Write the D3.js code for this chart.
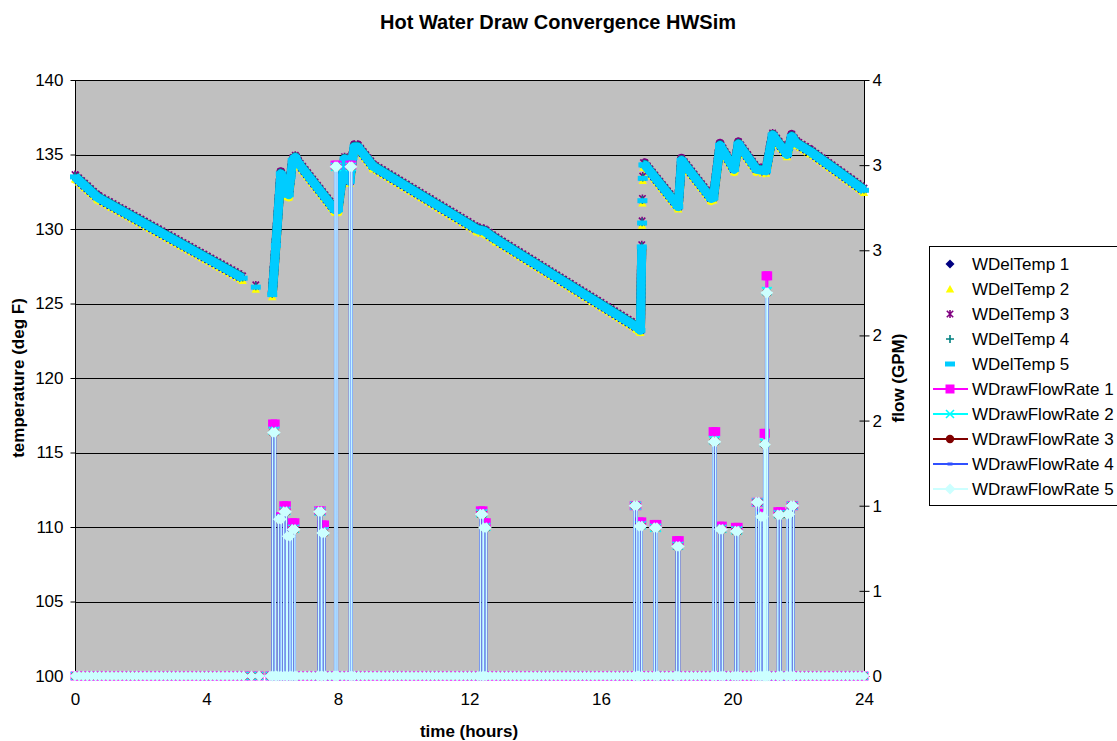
<!DOCTYPE html>
<html>
<head>
<meta charset="utf-8">
<script src="https://cdn.jsdelivr.net/npm/d3@7"></script>
<style>
body { margin: 0; background: #fff; }
text { font-family: "Liberation Sans", Arial, sans-serif; fill: #000; }
</style>
</head>
<body>
<svg width="1117" height="741"></svg>
<script>
// ---- data ----
const timeTicks = [0, 4, 8, 12, 16, 20, 24];
const tempTicks = [100, 105, 110, 115, 120, 125, 130, 135, 140];
const flowTicks = [0, 0.5, 1, 1.5, 2, 2.5, 3, 3.5];
const flowTickLabels = ["0", "1", "1", "2", "2", "3", "3", "4"];

// WDelTemp series (hours, deg F); null = no value
const delTime = [0, 0.7, 5.1, 5.3, 5.5, 5.75, 6.0, 6.11, 6.26, 6.32, 6.38, 6.44, 6.5, 6.56, 6.62, 6.7, 6.8, 7.9, 8.0, 8.2,
  8.28, 8.36, 8.44, 8.5, 8.6, 9.07, 12.25, 12.45, 12.8, 17.1, 17.2, 17.24, 17.245, 17.25, 17.255, 17.26, 17.265, 17.27, 17.275, 17.29,
  17.33, 18.35, 18.45, 19.35, 19.42, 19.62, 20.05, 20.18, 20.73, 21.02, 21.22, 21.66, 21.8, 21.95, 22.36, 24];
const delTemp1 = [133.45,132.05,126.65,null,126.05,null,125.55,128.85,133.65,133.35,132.35,133.25,132.25,133.45,134.55,134.75,134.35,131.25,131.25,134.65,
  133.75,133.15,134.75,135.45,135.45,134.15,129.9,129.8,129.25,123.35,123.15,128.75,null,130.35,null,131.85,null,133.35,null,134.25,
  134.25,131.45,134.55,132.0,132.05,135.55,133.95,135.65,133.95,133.85,136.25,134.95,136.15,135.7,135.15,132.55];
const delTemp2 = [133.35,131.95,126.55,null,125.95,null,125.45,128.75,133.55,133.25,132.25,133.15,132.15,133.35,134.45,134.65,134.25,131.15,131.15,134.55,
  133.65,133.05,134.65,135.35,135.35,134.05,129.8,129.7,129.15,123.25,123.05,128.65,null,130.25,null,131.75,null,133.25,null,134.15,
  134.15,131.35,134.45,131.9,131.95,135.45,133.85,135.55,133.85,133.75,136.15,134.85,136.05,135.6,135.05,132.45];
const delTemp3 = [133.65,132.25,126.85,null,126.25,null,125.75,129.05,133.85,133.55,132.55,133.45,132.45,133.65,134.75,134.95,134.55,131.45,131.45,134.85,
  133.95,133.35,134.95,135.65,135.65,134.35,130.1,130.0,129.45,123.55,123.35,128.95,null,130.55,null,132.05,null,133.55,null,134.45,
  134.45,131.65,134.75,132.2,132.25,135.75,134.15,135.85,134.15,134.05,136.45,135.15,136.35,135.9,135.35,132.75];
const delTemp4 = [133.55,132.15,126.75,null,126.15,null,125.65,128.95,133.75,133.45,132.45,133.35,132.35,133.55,134.65,134.85,134.45,131.35,131.35,134.75,
  133.85,133.25,134.85,135.55,135.55,134.25,130.0,129.9,129.35,123.45,123.25,128.85,null,130.45,null,131.95,null,133.45,null,134.35,
  134.35,131.55,134.65,132.1,132.15,135.65,134.05,135.75,134.05,133.95,136.35,135.05,136.25,135.8,135.25,132.65];
const delTemp5 = [133.5,132.1,126.7,null,126.1,null,125.6,128.9,133.7,133.4,132.4,133.3,132.3,133.5,134.6,134.8,134.4,131.3,131.3,134.7,
  133.8,133.2,134.8,135.5,135.5,134.2,129.95,129.85,129.3,123.4,123.2,128.8,null,130.4,null,131.9,null,133.4,null,134.3,
  134.3,131.5,134.6,132.05,132.1,135.6,134.0,135.7,134.0,133.9,136.3,135.0,136.2,135.75,135.2,132.6];

// WDrawFlowRate: sample times with zero flow, then the draws (start, end, GPM per run)
const zeroTimes = [0,.125,.25,.375,.5,.625,.75,.875,1,1.125,1.25,1.375,1.5,1.625,1.75,1.875,2,2.125,2.25,2.375,2.5,2.625,2.75,2.875,
  3,3.125,3.25,3.375,3.5,3.625,3.75,3.875,4,4.125,4.25,4.375,4.5,4.625,4.75,4.875,5,5.125,5.37,5.6,5.93,
  6,6.125,6.25,6.375,6.5,6.625,6.75,6.875,7,7.125,7.25,7.375,7.5,7.625,7.75,7.875,8,8.125,8.25,8.375,8.5,8.625,8.75,8.875,
  9,9.125,9.25,9.375,9.5,9.625,9.75,9.875,10,10.125,10.25,10.375,10.5,10.625,10.75,10.875,11,11.125,11.25,11.375,11.5,11.625,11.75,11.875,
  12,12.125,12.25,12.375,12.5,12.625,12.75,12.875,13,13.125,13.25,13.375,13.5,13.625,13.75,13.875,14,14.125,14.25,14.375,14.5,14.625,14.75,14.875,
  15,15.125,15.25,15.375,15.5,15.625,15.75,15.875,16,16.125,16.25,16.375,16.5,16.625,16.75,16.875,17,17.125,17.25,17.375,17.5,17.625,17.75,17.875,
  18,18.125,18.25,18.375,18.5,18.625,18.75,18.875,19,19.125,19.25,19.375,19.5,19.625,19.75,19.875,20,20.125,20.25,20.375,20.5,20.625,20.75,20.875,
  21,21.125,21.25,21.375,21.5,21.625,21.75,21.875,22,22.125,22.25,22.375,22.5,22.625,22.75,22.875,23,23.125,23.25,23.375,23.5,23.625,23.75,23.875,24];
const drawOn  = [6.01,6.19,6.35,6.46,6.61,7.41,7.51,7.91,8.36,12.33,12.43,17.01,17.16,17.62,18.30,19.41,19.61,20.09,20.72,20.86,20.96,21.02,21.38,21.66,21.78];
const drawOff = [6.09,6.27,6.43,6.54,6.69,7.49,7.59,7.97,8.42,12.41,12.51,17.09,17.24,17.70,18.38,19.49,19.69,20.17,20.80,20.94,21.00,21.07,21.46,21.74,21.86];
const flow1 = [1.48,0.935,1.0,0.87,0.90,0.97,0.887,3.0,3.0,0.97,0.90,1.0,0.905,0.89,0.795,1.435,0.88,0.873,1.02,0.955,1.425,2.35,0.965,0.955,1.0];
const flow2 = [1.44,0.925,0.97,0.83,0.865,0.965,0.85,2.99,2.99,0.955,0.875,1.0,0.885,0.87,0.765,1.385,0.865,0.855,1.02,0.94,1.37,2.26,0.95,0.95,1.0];
const flow3 = [1.43,0.92,0.965,0.82,0.86,0.965,0.84,2.99,2.99,0.95,0.87,1.0,0.88,0.87,0.76,1.376,0.86,0.85,1.02,0.935,1.36,2.25,0.945,0.95,1.0];
const flow4 = [1.43,0.92,0.965,0.82,0.86,0.965,0.84,2.99,2.99,0.95,0.87,1.0,0.88,0.87,0.76,1.376,0.86,0.85,1.02,0.935,1.36,2.25,0.945,0.95,1.0];
const flow5 = [1.43,0.92,0.965,0.82,0.86,0.965,0.84,2.99,2.99,0.95,0.87,1.0,0.88,0.87,0.76,1.376,0.86,0.85,1.02,0.935,1.36,2.25,0.945,0.95,1.0];

// ---- marker shapes ----
const shapes = {
  diamond:  "M0,-4.5L4.5,0L0,4.5L-4.5,0Z",
  triangle: "M0,-4L4.2,3.5L-4.2,3.5Z",
  star:     "M-3.2,-3.2L3.2,3.2M-3.2,3.2L3.2,-3.2M0,-4L0,4",
  plus:     "M-4,0L4,0M0,-4L0,4",
  dash:     "M-5,-2.5h10v5h-10Z",
  square:   "M-4.5,-4.5h9v9h-9Z",
  cross:    "M-4,-4L4,4M-4,4L4,-4",
  circle:   "M4.2,0A4.2,4.2 0 1,1 -4.2,0A4.2,4.2 0 1,1 4.2,0Z",
  smalldash:"M-2.5,-1.5h5v3h-5Z",
  bigdiamond:"M0,-5.5L5.5,0L0,5.5L-5.5,0Z"
};

const tempSeries = [
  {name: "WDelTemp 1", vals: delTemp1, color: "#000080", shape: "diamond", fill: true, dash: null},
  {name: "WDelTemp 2", vals: delTemp2, color: "#ffff00", shape: "triangle", fill: true, dash: "2 2"},
  {name: "WDelTemp 3", vals: delTemp3, color: "#800080", shape: "star", fill: false, dash: "2 2"},
  {name: "WDelTemp 4", vals: delTemp4, color: "#008080", shape: "plus", fill: false, dash: null},
  {name: "WDelTemp 5", vals: delTemp5, color: "#00ccff", shape: "dash", fill: true, dash: null}
];
const flowSeries = [
  {name: "WDrawFlowRate 1", vals: flow1, color: "#ff00ff", shape: "square", fill: true, w: 1.5},
  {name: "WDrawFlowRate 2", vals: flow2, color: "#00ffff", shape: "cross", fill: false, w: 1.5},
  {name: "WDrawFlowRate 3", vals: flow3, color: "#800000", shape: "circle", fill: true, w: 1.5},
  {name: "WDrawFlowRate 4", vals: flow4, color: "#3050ff", shape: "smalldash", fill: true, w: 2.2},
  {name: "WDrawFlowRate 5", vals: flow5, color: "#ccffff", shape: "bigdiamond", fill: true, w: 1.5}
];

// ---- layout ----
const svg = d3.select("svg");
const plotLeft = 75, plotRight = 864, plotTop = 80, plotBottom = 676;

const x = d3.scaleLinear().domain([0, 24]).range([plotLeft, plotRight]);
const yT = d3.scaleLinear().domain([100, 140]).range([plotBottom, plotTop]);
const yF = d3.scaleLinear().domain([0, 3.5]).range([plotBottom, plotTop]);

svg.append("rect").attr("width", 1117).attr("height", 741).attr("fill", "#fff");

svg.append("text")
  .attr("x", 558).attr("y", 29)
  .attr("text-anchor", "middle")
  .style("font-size", "20px").style("font-weight", "bold")
  .text("Hot Water Draw Convergence HWSim");

svg.append("rect")
  .attr("x", plotLeft).attr("y", plotTop)
  .attr("width", plotRight - plotLeft).attr("height", plotBottom - plotTop)
  .attr("fill", "#c0c0c0");

// gridlines
svg.append("g").selectAll("line")
  .data(tempTicks.filter(d => d > 100))
  .join("line")
  .attr("x1", plotLeft).attr("x2", plotRight)
  .attr("y1", d => Math.round(yT(d)) + 0.5)
  .attr("y2", d => Math.round(yT(d)) + 0.5)
  .attr("stroke", "#000").attr("stroke-width", 1);

// axes
const axisFont = g => g.selectAll("text").style("font-size", "17px").style("font-family", '"Liberation Sans", Arial, sans-serif');

svg.append("g")
  .attr("transform", `translate(${plotLeft + 0.5},0)`)
  .call(d3.axisLeft(yT).tickValues(tempTicks).tickSize(5).tickPadding(7).tickFormat(d3.format("d")))
  .call(axisFont)
  .call(g => g.select(".domain").attr("d", `M0,${plotTop}V${plotBottom}`));

svg.append("g")
  .attr("transform", `translate(${plotRight + 0.5},0)`)
  .call(d3.axisRight(yF).tickValues(flowTicks).tickSize(5).tickPadding(3).tickFormat((d, i) => flowTickLabels[i]))
  .call(axisFont)
  .call(g => g.select(".domain").attr("d", `M0,${plotTop}V${plotBottom}`))
  .call(g => g.selectAll(".tick line").attr("x1", -5));

svg.append("g")
  .attr("transform", `translate(0,${plotBottom + 0.5})`)
  .call(d3.axisBottom(x).tickValues(timeTicks).tickSize(4).tickPadding(12).tickFormat(d3.format("d")))
  .call(axisFont)
  .call(g => g.select(".domain").attr("d", `M${plotLeft},0H${plotRight}`));

// axis titles
svg.append("text")
  .attr("transform", "translate(24,378) rotate(-90)")
  .attr("text-anchor", "middle")
  .style("font-size", "17px").style("font-weight", "bold")
  .text("temperature (deg F)");
svg.append("text")
  .attr("transform", "translate(904,378) rotate(-90)")
  .attr("text-anchor", "middle")
  .style("font-size", "17px").style("font-weight", "bold")
  .text("flow (GPM)");
svg.append("text")
  .attr("x", 469).attr("y", 737)
  .attr("text-anchor", "middle")
  .style("font-size", "17px").style("font-weight", "bold")
  .text("time (hours)");

function styleMarker(sel, s) {
  if (s.fill) sel.attr("fill", s.color).attr("stroke", "none");
  else sel.attr("fill", "none").attr("stroke", s.color).attr("stroke-width", 1.6);
}

// temperature series: dense markers form a ribbon
tempSeries.forEach(s => {
  const pts = delTime.map((t, i) => ({t: t, v: s.vals[i]}));
  const line = d3.line().defined(d => d.v != null).x(d => x(d.t)).y(d => yT(d.v));
  svg.append("path")
    .datum(pts)
    .attr("d", line)
    .attr("fill", "none")
    .attr("stroke", s.color)
    .attr("stroke-width", 9)
    .attr("stroke-linejoin", "round")
    .attr("stroke-dasharray", s.dash);
  svg.append("g").selectAll("path")
    .data(pts.filter(d => d.v != null))
    .join("path")
    .attr("d", shapes[s.shape])
    .attr("transform", d => `translate(${x(d.t)},${yT(d.v)})`)
    .call(styleMarker, s);
});

// flow series
function flowPoints(peaks) {
  const pts = [];
  zeroTimes.forEach(t => {
    if (!drawOn.some((on, i) => t >= on && t <= drawOff[i])) pts.push([t, 0]);
  });
  drawOn.forEach((on, i) => {
    pts.push([on, 0], [on, peaks[i]], [drawOff[i], peaks[i]], [drawOff[i], 0]);
  });
  return pts.sort((a, b) => a[0] - b[0]);
}

flowSeries.forEach(s => {
  const pts = flowPoints(s.vals);
  svg.append("path")
    .datum(pts)
    .attr("d", d3.line().x(d => x(d[0])).y(d => yF(d[1])))
    .attr("fill", "none")
    .attr("stroke", s.color)
    .attr("stroke-width", s.w);
  svg.append("g").selectAll("path")
    .data(pts)
    .join("path")
    .attr("d", shapes[s.shape])
    .attr("transform", d => `translate(${x(d[0])},${yF(d[1])})`)
    .call(styleMarker, s);
});

// legend
const legend = svg.append("g");
legend.append("rect")
  .attr("x", 929.5).attr("y", 246.5)
  .attr("width", 200).attr("height", 259)
  .attr("fill", "#fff").attr("stroke", "#000");

const legendItems = tempSeries.map(s => ({...s, line: false}))
  .concat(flowSeries.map(s => ({...s, line: true})));

const li = legend.selectAll("g.item")
  .data(legendItems)
  .join("g")
  .attr("class", "item")
  .attr("transform", (d, i) => `translate(0,${264 + i * 25})`);

li.filter(d => d.line).append("line")
  .attr("x1", 933).attr("x2", 968)
  .attr("stroke", d => d.color).attr("stroke-width", 2);

li.append("path")
  .attr("d", d => shapes[d.shape])
  .attr("transform", "translate(950,0)")
  .each(function(d) { styleMarker(d3.select(this), d); });

li.append("text")
  .attr("x", 972).attr("y", 6)
  .style("font-size", "17px")
  .text(d => d.name);
</script>
</body>
</html>
